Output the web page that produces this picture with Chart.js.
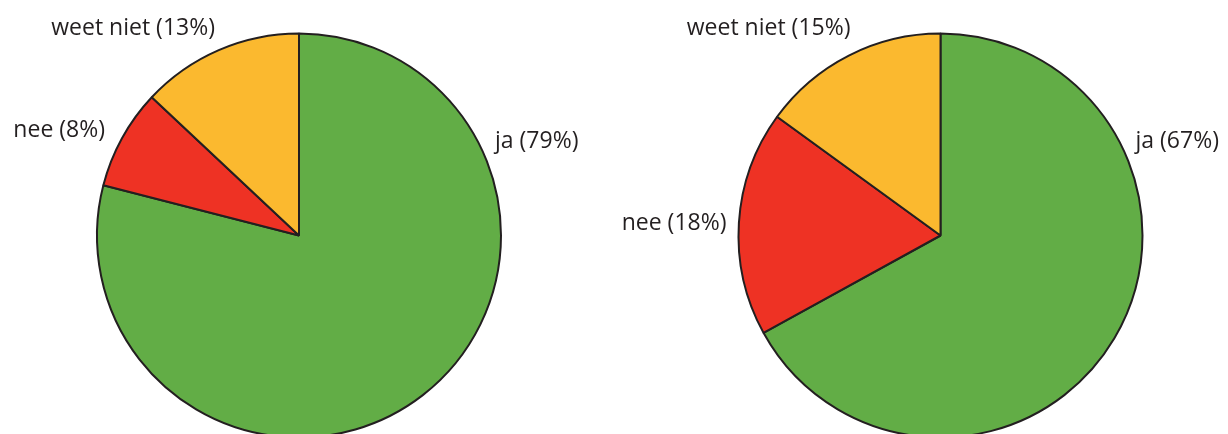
<!DOCTYPE html>
<html lang="nl">

<head>
    <meta charset="utf-8" />
    <title>Enquête</title>
    <script src="https://cdn.jsdelivr.net/npm/chart.js"></script>
    <style>
        html, body { margin: 0; padding: 0; background: #fff; overflow: hidden; width: 1228px; height: 434px; }
        .pie { position: absolute; top: 0; }
    </style>
</head>

<body>
    <canvas id="pieLinks" class="pie" width="614" height="471" style="left:0"></canvas>
    <canvas id="pieRechts" class="pie" width="614" height="471" style="left:614px"></canvas>
    <script>
        const antwoorden = ['ja', 'nee', 'weet niet'];
        const waardenLinks = [79, 8, 13];
        const waardenRechts = [67, 18, 15];
        const kleuren = ['#62ad46', '#ee3224', '#fbb92f'];

        // label anchor per slice, in px from the pie centre (baseline), plus alignment
        const ankersLinks = [
            { dx: 196, dy: -88, align: 'left' },
            { dx: -194, dy: -99, align: 'right' },
            { dx: -84, dy: -201, align: 'right' }
        ];
        const ankersRechts = [
            { dx: 195, dy: -88, align: 'left' },
            { dx: -214, dy: -6, align: 'right' },
            { dx: -90, dy: -201, align: 'right' }
        ];

        const labelPlugin = {
            id: 'sliceLabels',
            afterDraw(chart, args, opts) {
                const ctx = chart.ctx;
                const arc = chart.getDatasetMeta(0).data[0];
                const ds = chart.data.datasets[0];
                ctx.save();
                ctx.font = '23px "Open Sans", sans-serif';
                ctx.fillStyle = '#231f20';
                ctx.textBaseline = 'alphabetic';
                chart.data.labels.forEach((lbl, i) => {
                    const a = opts.anchors[i];
                    ctx.textAlign = a.align;
                    ctx.fillText(lbl + ' (' + ds.data[i] + '%)', arc.x + a.dx, arc.y + a.dy);
                });
                ctx.restore();
            }
        };

        function maakTaart(id, waarden, ankers, padding) {
            return new Chart(document.getElementById(id), {
                type: 'pie',
                data: {
                    labels: antwoorden,
                    datasets: [{
                        data: waarden,
                        backgroundColor: kleuren,
                        borderColor: '#231f20',
                        borderWidth: 2
                    }]
                },
                options: {
                    responsive: false,
                    animation: false,
                    radius: 202,
                    layout: { padding: padding },
                    events: [],
                    plugins: {
                        legend: { display: false },
                        tooltip: { enabled: false },
                        sliceLabels: { anchors: ankers }
                    }
                },
                plugins: [labelPlugin]
            });
        }

        maakTaart('pieLinks', waardenLinks, ankersLinks, { right: 16 });
        maakTaart('pieRechts', waardenRechts, ankersRechts, { left: 39 });
    </script>
</body>

</html>
